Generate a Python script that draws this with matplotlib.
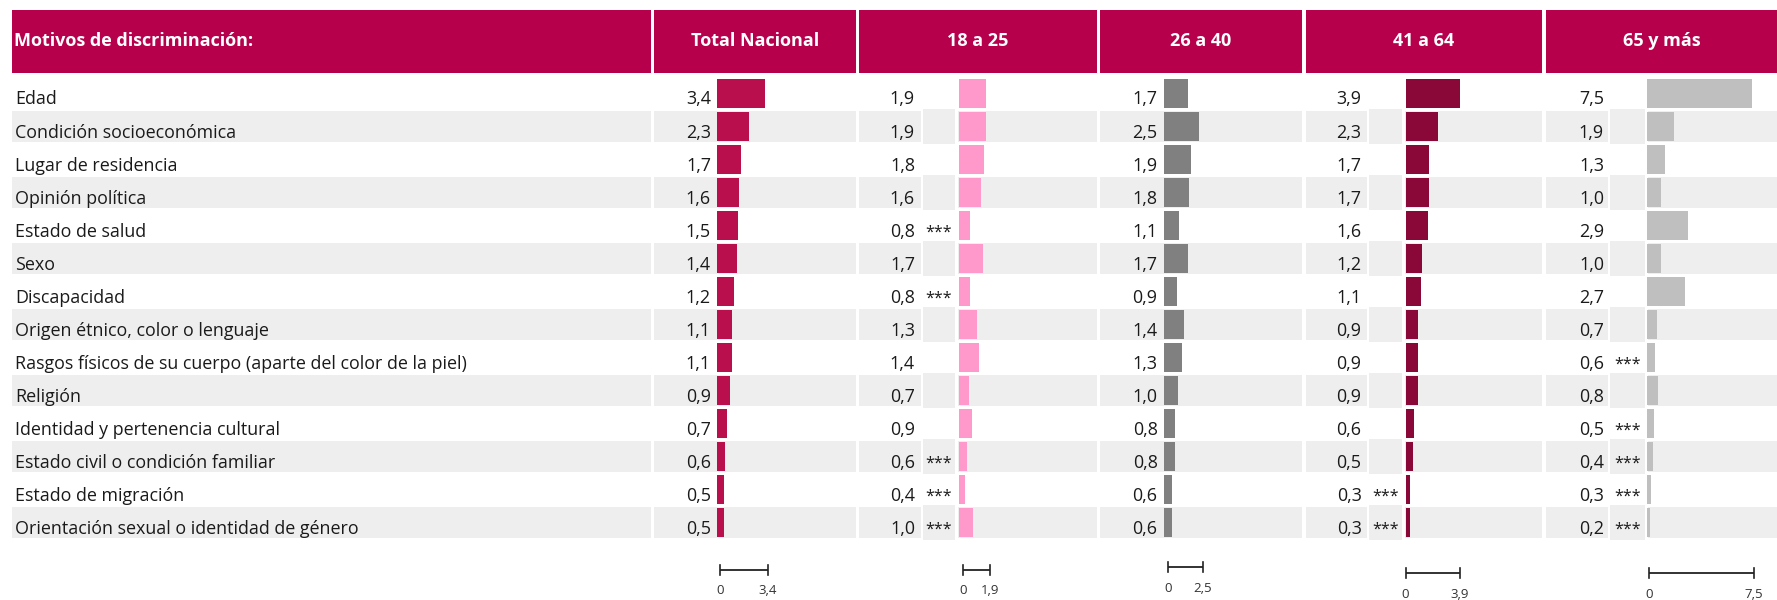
import matplotlib
matplotlib.use("Agg")
import matplotlib.pyplot as plt
from matplotlib.patches import Rectangle
from matplotlib.font_manager import FontProperties
from matplotlib.transforms import blended_transform_factory, Affine2D

# ---------------- data ----------------
categories = [
    "Edad",
    "Condición socioeconómica",
    "Lugar de residencia",
    "Opinión política",
    "Estado de salud",
    "Sexo",
    "Discapacidad",
    "Origen étnico, color o lenguaje",
    "Rasgos físicos de su cuerpo (aparte del color de la piel)",
    "Religión",
    "Identidad y pertenencia cultural",
    "Estado civil o condición familiar",
    "Estado de migración",
    "Orientación sexual o identidad de género",
]
group_names = ["Total Nacional", "18 a 25", "26 a 40", "41 a 64", "65 y más"]

total_nacional = [3.4, 2.3, 1.7, 1.6, 1.5, 1.4, 1.2, 1.1, 1.1, 0.9, 0.7, 0.6, 0.5, 0.5]
edad_18_25 = [1.9, 1.9, 1.8, 1.6, 0.8, 1.7, 0.8, 1.3, 1.4, 0.7, 0.9, 0.6, 0.4, 1.0]
edad_26_40 = [1.7, 2.5, 1.9, 1.8, 1.1, 1.7, 0.9, 1.4, 1.3, 1.0, 0.8, 0.8, 0.6, 0.6]
edad_41_64 = [3.9, 2.3, 1.7, 1.7, 1.6, 1.2, 1.1, 0.9, 0.9, 0.9, 0.6, 0.5, 0.3, 0.3]
edad_65_mas = [7.5, 1.9, 1.3, 1.0, 2.9, 1.0, 2.7, 0.7, 0.6, 0.8, 0.5, 0.4, 0.3, 0.2]

# low-precision estimates (***)
flag_18_25 = [0, 0, 0, 0, 1, 0, 1, 0, 0, 0, 0, 1, 1, 1]
flag_26_40 = [0] * 14
flag_41_64 = [0, 0, 0, 0, 0, 0, 0, 0, 0, 0, 0, 0, 1, 1]
flag_65_mas = [0, 0, 0, 0, 0, 0, 0, 0, 1, 0, 1, 1, 1, 1]

series = [total_nacional, edad_18_25, edad_26_40, edad_41_64, edad_65_mas]
flags = [None, flag_18_25, flag_26_40, flag_41_64, flag_65_mas]
bar_colors = ["#B90F4D", "#FF99CC", "#808080", "#8A0838", "#BFBFBF"]

# ---------------- layout (pixels) ----------------
W, H = 1777, 600
HEADER_COLOR = "#B7004B"
BAND = "#EEEEEE"
TXT = "#1A1A1A"
PX_PER_UNIT = 14.0
ROW_TOP = 77.0
PITCH = 33.03
N = len(categories)
ROW_BOTTOM = ROW_TOP + N * PITCH
BODY_SIZE = 12.9

label_box = (12, 651)
# per column: box, value text right edge, star cell (or None), bar start,
# scale bar offset and scale bar y
columns = [
    dict(box=(654, 856), val_right=711, star=None, bar_x=717, sb_dx=3, sb_y=570),
    dict(box=(859, 1097), val_right=915, star=(923, 955), bar_x=959, sb_dx=4, sb_y=569.5),
    dict(box=(1100, 1302), val_right=1157.5, star=None, bar_x=1164, sb_dx=4, sb_y=567),
    dict(box=(1306, 1542), val_right=1361.5, star=(1369, 1402), bar_x=1405.5, sb_dx=0, sb_y=573.3),
    dict(box=(1546, 1777), val_right=1604, star=(1610, 1645), bar_x=1647, sb_dx=2, sb_y=573.3),
]

body_font = "Open Sans"
head_fp = FontProperties(family="Open Sans", weight="bold", size=13)


def fmt(v):
    return f"{v:.1f}".replace(".", ",")


fig = plt.figure(figsize=(W / 100, H / 100), dpi=100)
bg = fig.add_axes([0, 0, 1, 1])
bg.set_xlim(0, W)
bg.set_ylim(H, 0)
bg.axis("off")


# header
def header_box(x0, x1, text, left=False):
    bg.add_patch(Rectangle((x0, 10), x1 - x0, 62.5, color=HEADER_COLOR, lw=0))
    if left:
        bg.text(x0 + 2, 41.5, text, color="white", fontproperties=head_fp, ha="left", va="center")
    else:
        bg.text((x0 + x1) / 2, 41.5, text, color="white", fontproperties=head_fp, ha="center", va="center")


header_box(*label_box, "Motivos de discriminación:", left=True)
for col, name in zip(columns, group_names):
    header_box(*col["box"], name)

# row banding and labels
for i, cat in enumerate(categories):
    top = ROW_TOP + i * PITCH
    if i % 2 == 1:
        segs = [label_box]
        for col in columns:
            if col["star"] is None:
                segs.append(col["box"])
            else:
                segs.append((col["box"][0], col["star"][0] - 2))
                segs.append((col["star"][1] + 2.5, col["box"][1]))
                bg.add_patch(Rectangle((col["star"][0], top - 1), col["star"][1] - col["star"][0], 35,
                                       color=BAND, lw=0))
        for a, b in segs:
            bg.add_patch(Rectangle((a, top + 0.5), b - a, 31, color=BAND, lw=0))
    bg.text(15, top + 27.5, cat, fontsize=BODY_SIZE, family=body_font, color=TXT,
            ha="left", va="baseline")

# bars per column
for col, vals, flg, colr in zip(columns, series, flags, bar_colors):
    x0 = col["bar_x"]
    width_px = col["box"][1] - x0
    ax = fig.add_axes([x0 / W, 1 - ROW_BOTTOM / H, width_px / W, (ROW_BOTTOM - ROW_TOP) / H])
    ax.set_xlim(0, width_px / PX_PER_UNIT)
    ax.set_ylim(N - 0.5, -0.5)
    ax.axis("off")
    ax.patch.set_visible(False)
    ax.barh(range(N), vals, height=29 / PITCH, color=colr, lw=0)

    for i, v in enumerate(vals):
        top = ROW_TOP + i * PITCH
        bg.text(col["val_right"], top + 27.5, fmt(v), fontsize=BODY_SIZE, family=body_font,
                color=TXT, ha="right", va="baseline")
        if flg is not None and flg[i]:
            sx = (col["star"][0] + col["star"][1]) / 2
            bg.text(sx, top + 27.5, "***", fontsize=11.5, family=body_font,
                    color=TXT, ha="center", va="baseline")

    # scale bar from 0 to the column maximum
    vmax = max(vals)
    tr = blended_transform_factory(ax.transData, bg.transData) + Affine2D().translate(col["sb_dx"], 0)
    y = col["sb_y"]
    ax.plot([0, vmax], [y, y], color="#222222", lw=1.3, transform=tr, clip_on=False,
            solid_capstyle="butt")
    for xv in (0, vmax):
        ax.plot([xv, xv], [y - 5, y + 5], color="#222222", lw=1.2, transform=tr, clip_on=False)
    ax.text(0, y + 21, "0", transform=tr, fontsize=9.5, family=body_font, color="#333333",
            ha="center", va="center", clip_on=False)
    ax.text(vmax, y + 21, fmt(vmax), transform=tr, fontsize=9.5, family=body_font,
            color="#333333", ha="center", va="center", clip_on=False)

fig.savefig("out.png", dpi=100, facecolor="white")
